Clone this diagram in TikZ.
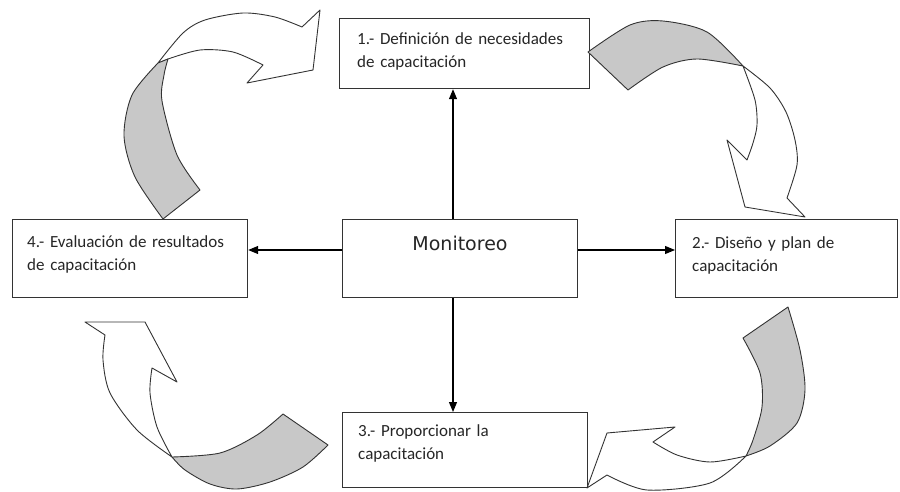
\documentclass[tikz,border=0pt]{standalone}
\usepackage{fontspec}
\setmainfont{Carlito}
\newfontfamily\monfont{DejaVu Sans}
\usetikzlibrary{arrows.meta}
\definecolor{ln}{HTML}{333333}
\definecolor{shade}{HTML}{C8C8C8}
\newcommand\mylblfont{\fontsize{17}{23}\selectfont}
\begin{document}
\begin{tikzpicture}[x=1pt,y=-1pt,
  box/.style={draw=ln, line width=1.2pt, anchor=north west, inner sep=0pt},
  lbl/.style={font=\mylblfont, align=left, text width=235pt, inner sep=0pt, anchor=base west, text=black!85},
  conn/.style={draw=black, line width=1.1pt, -{Triangle[length=10pt,width=8pt]}},
  band/.style={draw=ln, line width=0.9pt, line join=round},
  whiteband/.style={band, fill=white},
  grayband/.style={band, fill=shade}]
\fill[white] (0,0) rectangle (900,492);
\useasboundingbox (0,0) rectangle (900,492);

% boxes
\node[box, minimum width=250pt, minimum height=70pt] (b1) at (339,18) {};
\node[box, minimum width=222pt, minimum height=78pt] (b2) at (675,219) {};
\node[box, minimum width=245pt, minimum height=75pt] (b3) at (342,412) {};
\node[box, minimum width=235pt, minimum height=78pt] (b4) at (12,219) {};
\node[box, minimum width=235pt, minimum height=78pt] (mon) at (342,219) {};

% labels
\node[lbl] (t1) at (357,45) {1.- Definición de necesidades\\de capacitación};
\node[lbl] (t2) at (692,248) {2.- Diseño y plan de\\capacitación};
\node[lbl] (t3) at (358,436) {3.- Proporcionar la\\capacitación};
\node[lbl] (t4) at (27,247) {4.- Evaluación de resultados\\de capacitación};
\node[font=\monfont\fontsize{19}{22}\selectfont, anchor=base, inner sep=0pt, text=black!85] (tm) at (460,250) {Monitoreo};

% connectors
\coordinate (vx) at (453,0);
\coordinate (hy) at (0,250);
\draw[conn] (mon.north -| vx) -- (b1.south -| vx);
\draw[conn] (mon.south -| vx) -- (b3.north -| vx);
\draw[conn] (mon.west |- hy) -- (b4.east |- hy);
\draw[conn] (mon.east |- hy) -- (b2.west |- hy);

% arrow A (top-left)
\draw[whiteband] (158,63) -- plot[smooth] coordinates {(158,63) (183,33) (205,20) (243,13) (275,17) (302,27)}
  -- (320,10) -- (313,70) -- (247,83) -- (263,65)
  -- plot[smooth] coordinates {(263,65) (233,52) (200,50) (168,59)} -- cycle;
\draw[grayband] (163,219) -- (200,190)
  -- plot[smooth] coordinates {(200,190) (177,155) (162,101) (164,75) (168,59)}
  -- (158,63)
  -- plot[smooth] coordinates {(158,63) (132,95) (124,136) (135,177) (163,219)} -- cycle;

% arrow B (top-right)
\draw[whiteband] (743,66) -- plot[smooth] coordinates {(743,66) (770,88) (786,112) (795,140) (797,165) (787,198)}
  -- (805,217) -- (745,207) -- (727,140) -- (747,160)
  -- plot[smooth] coordinates {(747,160) (753,143) (757,125) (755,100) (743,66)} -- cycle;
\draw[grayband] (588,52) -- plot[smooth] coordinates {(588,52) (630,25) (663,21) (707,32) (743,66)}
  -- plot[smooth] coordinates {(743,66) (697,59) (663,67) (628,90)} -- cycle;

% arrow C (bottom-right)
\draw[whiteband] (746,456) -- plot[smooth] coordinates {(746,456) (710,462) (677,455) (653,442)}
  -- (675,427) -- (607,433) -- (587,488) -- (607,475)
  -- plot[smooth] coordinates {(607,475) (647,490) (710,483) (746,456)} -- cycle;
\draw[grayband] (743,338) -- (788,307)
  -- plot[smooth] coordinates {(788,307) (800,350) (805,390) (797,423) (770,446) (746,456)}
  -- plot[smooth] coordinates {(746,456) (753,440) (762,407) (760,373) (743,338)} -- cycle;

% arrow D (bottom-left)
\draw[whiteband] (172,457) -- plot[smooth] coordinates {(172,457) (137,430) (110,393) (103,360) (105,335)}
  -- (85,322) -- (145,322) -- (177,382) -- (152,368)
  -- plot[smooth] coordinates {(152,368) (150,393) (157,427) (172,457)} -- cycle;
\draw[grayband] (283,414) -- (328,445)
  -- plot[smooth] coordinates {(328,445) (303,467) (270,482) (237,489) (210,484) (185,470) (172,457)}
  -- plot[smooth] coordinates {(172,457) (220,453) (257,435) (283,414)} -- cycle;
\end{tikzpicture}
\end{document}
